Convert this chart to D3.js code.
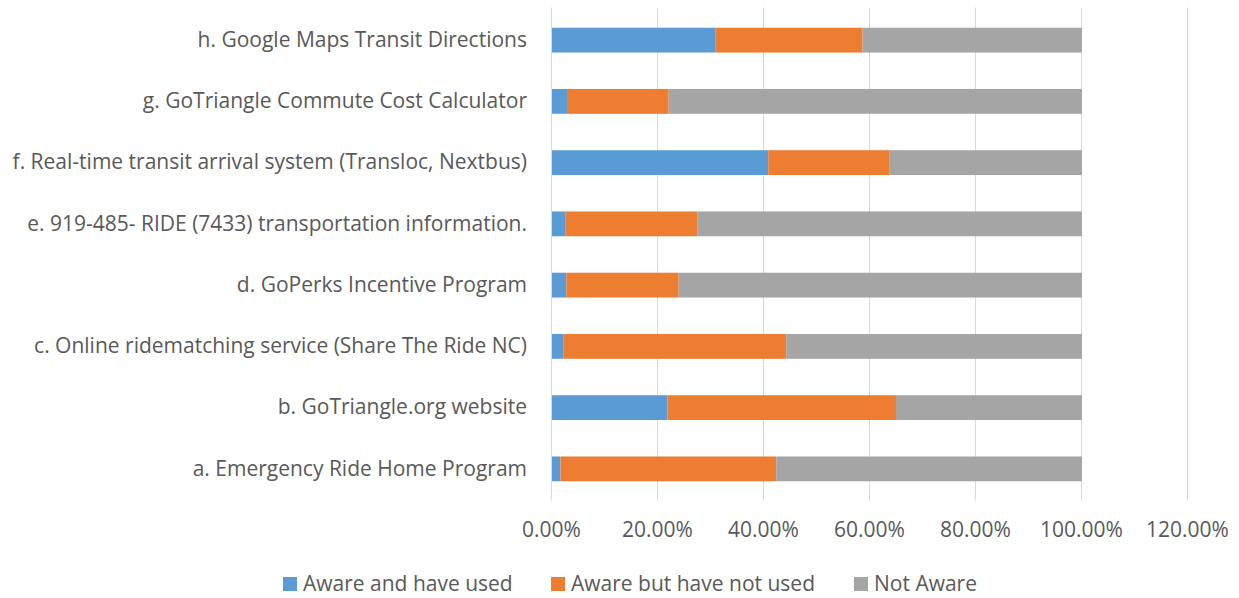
<!DOCTYPE html>
<html><head><meta charset="utf-8">
<script src="https://cdn.jsdelivr.net/npm/d3@7"></script>
<style>body{margin:0;background:#fff}svg{display:block}text{font-family:"Open Sans",sans-serif;fill:#595959}</style>
</head><body><svg id="c" width="1239" height="598"></svg>
<script>
const categories = ["a. Emergency Ride Home Program","b. GoTriangle.org website","c. Online ridematching service (Share The Ride NC)","d. GoPerks Incentive Program","e. 919-485- RIDE (7433) transportation information.","f. Real-time transit arrival system (Transloc, Nextbus)","g. GoTriangle Commute Cost Calculator","h. Google Maps Transit Directions"];
const seriesNames = ["Aware and have used","Aware but have not used","Not Aware"];
const awareUsed    = [1.6, 21.8, 2.2, 2.7, 2.5, 40.8, 3.0, 30.8];
const awareNotUsed = [40.7, 43.1, 42.0, 21.2, 24.9, 22.8, 19.0, 27.8];
const notAware     = [57.7, 35.1, 55.8, 76.1, 72.6, 36.4, 78.0, 41.4];
const tickValues = [0,20,40,60,80,100,120];
const colors = ["#5B9BD5","#ED7D31","#A5A5A5"];

const FS = "21px";
const svg = d3.select("#c");
const m = {left:551, right:1187, top:9.5, bottom:499.5};
const x = d3.scaleLinear().domain([0,120]).range([m.left,m.right]);
const y = d3.scaleBand().domain(categories.slice().reverse()).range([m.top,m.bottom]).paddingInner(0.595).paddingOuter(0.2975);

const rows = categories.map((c,i)=>({cat:c, s0:awareUsed[i], s1:awareNotUsed[i], s2:notAware[i]}));
const stack = d3.stack().keys(["s0","s1","s2"])(rows);

// gridlines
svg.append("g").selectAll("line").data(tickValues).join("line")
  .attr("x1",d=>x(d)+0.5).attr("x2",d=>x(d)+0.5)
  .attr("y1",m.top-2).attr("y2",m.bottom+1)
  .attr("stroke","#d9d9d9").attr("stroke-width",1);

// bars
svg.append("g").selectAll("g").data(stack).join("g")
  .attr("fill",(d,i)=>colors[i])
  .selectAll("rect").data(d=>d).join("rect")
  .attr("x",d=>x(d[0])+1).attr("width",d=>x(d[1])-x(d[0]))
  .attr("y",d=>y(d.data.cat)).attr("height",y.bandwidth());

// x axis labels
const xa = svg.append("g").attr("transform",`translate(0,${m.bottom})`)
  .call(d3.axisBottom(x).tickValues(tickValues).tickSize(0).tickPadding(23).tickFormat(d=>d.toFixed(2)+"%"));
xa.select(".domain").remove();
xa.selectAll("text").style("font-size",FS).style("font-family","'Open Sans',sans-serif").attr("fill","#595959");

// y axis labels
const ya = svg.append("g").attr("transform",`translate(${m.left},0)`)
  .call(d3.axisLeft(y).tickSize(0).tickPadding(24));
ya.select(".domain").remove();
ya.selectAll("text").style("font-size",FS).style("font-family","'Open Sans',sans-serif").attr("fill","#595959");

// legend
const legX = [283, 551, 854];
const leg = svg.append("g").selectAll("g").data(seriesNames).join("g")
  .attr("transform",(d,i)=>`translate(${legX[i]},584)`);
leg.append("rect").attr("x",0).attr("y",-7).attr("width",14).attr("height",14).attr("fill",(d,i)=>colors[i]);
leg.append("text").attr("x",20).attr("dy","0.35em").style("font-size",FS).text(d=>d);
</script></body></html>
